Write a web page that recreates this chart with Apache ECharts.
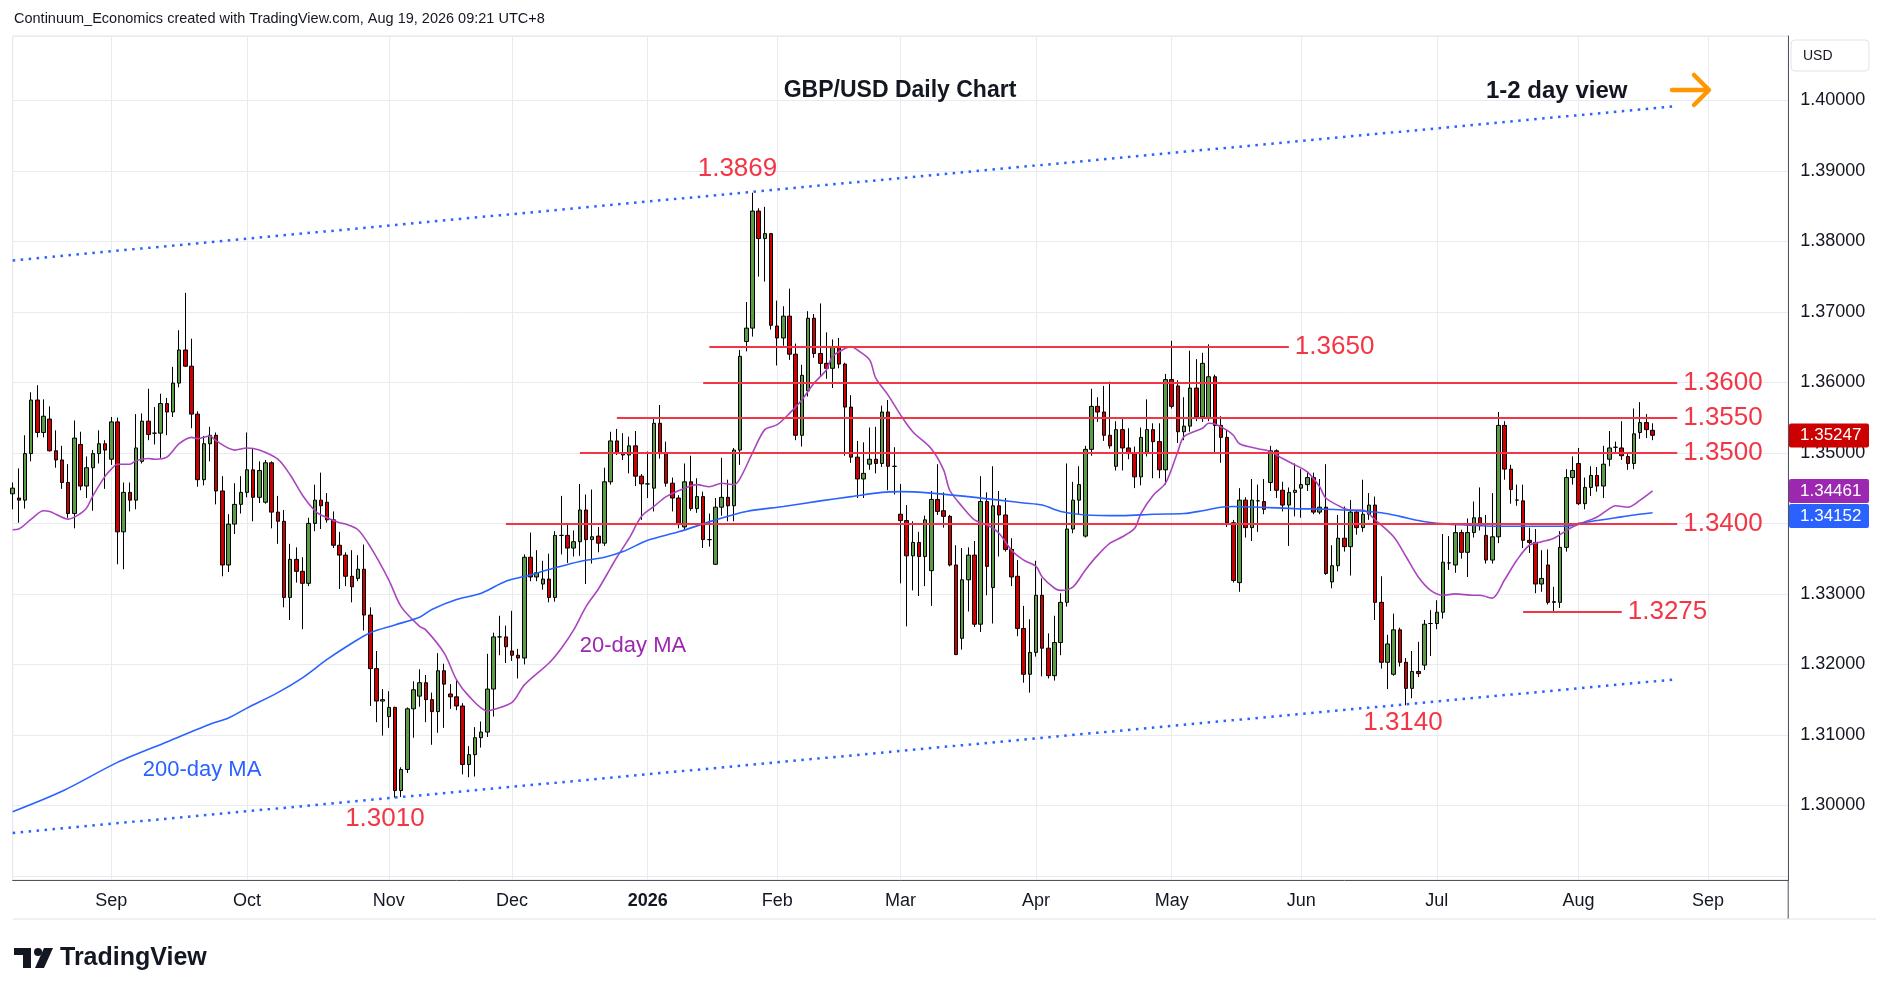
<!DOCTYPE html>
<html>
<head>
<meta charset="utf-8">
<title>GBP/USD Daily Chart</title>
<script src="https://cdn.jsdelivr.net/npm/echarts@6/dist/echarts.min.js"></script>
<style>
  html, body { margin: 0; padding: 0; background: #fff; }
  #chart { width: 1888px; height: 996px; }
</style>
</head>
<body>
<div id="chart"></div>
<script>
// daily candles: [date, open, high, low, close]
const aug25 = [
  ['2025-08-08', 1.3442, 1.3458, 1.3420, 1.3450],
  ['2025-08-11', 1.3436, 1.3478, 1.3401, 1.3433],
  ['2025-08-12', 1.3433, 1.3525, 1.3421, 1.3499],
  ['2025-08-13', 1.3499, 1.3586, 1.3488, 1.3575],
  ['2025-08-14', 1.3575, 1.3596, 1.3522, 1.3529],
  ['2025-08-15', 1.3529, 1.3576, 1.3522, 1.3552],
  ['2025-08-18', 1.3548, 1.3566, 1.3502, 1.3503],
  ['2025-08-19', 1.3503, 1.3532, 1.3479, 1.3490],
  ['2025-08-20', 1.3490, 1.3510, 1.3449, 1.3458],
  ['2025-08-21', 1.3458, 1.3484, 1.3408, 1.3414],
  ['2025-08-22', 1.3414, 1.3546, 1.3393, 1.3521],
  ['2025-08-25', 1.3512, 1.3530, 1.3447, 1.3453],
  ['2025-08-26', 1.3453, 1.3495, 1.3436, 1.3479],
  ['2025-08-27', 1.3479, 1.3504, 1.3418, 1.3499],
  ['2025-08-28', 1.3499, 1.3532, 1.3485, 1.3513],
  ['2025-08-29', 1.3513, 1.3518, 1.3449, 1.3504]
]
const sep25 = [
  ['2025-09-01', 1.3491, 1.3551, 1.3483, 1.3544],
  ['2025-09-02', 1.3544, 1.3550, 1.3342, 1.3388],
  ['2025-09-03', 1.3388, 1.3458, 1.3335, 1.3444],
  ['2025-09-04', 1.3444, 1.3458, 1.3417, 1.3433],
  ['2025-09-05', 1.3433, 1.3555, 1.3420, 1.3507],
  ['2025-09-08', 1.3488, 1.3556, 1.3485, 1.3545],
  ['2025-09-09', 1.3545, 1.3591, 1.3518, 1.3526],
  ['2025-09-10', 1.3528, 1.3565, 1.3512, 1.3528],
  ['2025-09-11', 1.3528, 1.3584, 1.3493, 1.3570],
  ['2025-09-12', 1.3570, 1.3578, 1.3525, 1.3558],
  ['2025-09-15', 1.3558, 1.3622, 1.3551, 1.3599],
  ['2025-09-16', 1.3599, 1.3674, 1.3593, 1.3646],
  ['2025-09-17', 1.3646, 1.3727, 1.3622, 1.3623],
  ['2025-09-18', 1.3623, 1.3662, 1.3535, 1.3555],
  ['2025-09-19', 1.3555, 1.3559, 1.3452, 1.3462],
  ['2025-09-22', 1.3462, 1.3524, 1.3454, 1.3513],
  ['2025-09-23', 1.3513, 1.3537, 1.3488, 1.3525],
  ['2025-09-24', 1.3525, 1.3529, 1.3427, 1.3446],
  ['2025-09-25', 1.3446, 1.3467, 1.3325, 1.3341],
  ['2025-09-26', 1.3341, 1.3413, 1.3331, 1.3399],
  ['2025-09-29', 1.3399, 1.3457, 1.3385, 1.3427],
  ['2025-09-30', 1.3427, 1.3467, 1.3414, 1.3444]
]
const oct25 = [
  ['2025-10-01', 1.3444, 1.3529, 1.3437, 1.3476],
  ['2025-10-02', 1.3476, 1.3507, 1.3403, 1.3437],
  ['2025-10-03', 1.3437, 1.3488, 1.3429, 1.3475],
  ['2025-10-06', 1.3430, 1.3490, 1.3428, 1.3486],
  ['2025-10-07', 1.3486, 1.3488, 1.3393, 1.3416],
  ['2025-10-08', 1.3416, 1.3439, 1.3371, 1.3403],
  ['2025-10-09', 1.3403, 1.3419, 1.3281, 1.3295],
  ['2025-10-10', 1.3295, 1.3371, 1.3263, 1.3349],
  ['2025-10-13', 1.3349, 1.3366, 1.3316, 1.3332],
  ['2025-10-14', 1.3332, 1.3352, 1.3250, 1.3315],
  ['2025-10-15', 1.3315, 1.3408, 1.3311, 1.3400],
  ['2025-10-16', 1.3400, 1.3455, 1.3389, 1.3433],
  ['2025-10-17', 1.3433, 1.3472, 1.3392, 1.3425],
  ['2025-10-20', 1.3430, 1.3443, 1.3401, 1.3405],
  ['2025-10-21', 1.3405, 1.3417, 1.3365, 1.3369],
  ['2025-10-22', 1.3369, 1.3388, 1.3307, 1.3355],
  ['2025-10-23', 1.3355, 1.3359, 1.3311, 1.3325],
  ['2025-10-24', 1.3325, 1.3362, 1.3288, 1.3310],
  ['2025-10-27', 1.3322, 1.3355, 1.3318, 1.3335],
  ['2025-10-28', 1.3335, 1.3370, 1.3248, 1.3270],
  ['2025-10-29', 1.3270, 1.3281, 1.3141, 1.3194],
  ['2025-10-30', 1.3194, 1.3219, 1.3118, 1.3148],
  ['2025-10-31', 1.3148, 1.3165, 1.3099, 1.3150]
]
const nov25 = [
  ['2025-11-03', 1.3126, 1.3162, 1.3110, 1.3139],
  ['2025-11-04', 1.3139, 1.3140, 1.3011, 1.3021],
  ['2025-11-05', 1.3021, 1.3054, 1.3012, 1.3051],
  ['2025-11-06', 1.3051, 1.3139, 1.3046, 1.3137],
  ['2025-11-07', 1.3137, 1.3176, 1.3096, 1.3164],
  ['2025-11-10', 1.3155, 1.3193, 1.3140, 1.3174],
  ['2025-11-11', 1.3174, 1.3185, 1.3118, 1.3150],
  ['2025-11-12', 1.3150, 1.3160, 1.3086, 1.3133],
  ['2025-11-13', 1.3133, 1.3216, 1.3103, 1.3191],
  ['2025-11-14', 1.3191, 1.3201, 1.3110, 1.3172],
  ['2025-11-17', 1.3158, 1.3172, 1.3137, 1.3154],
  ['2025-11-18', 1.3154, 1.3178, 1.3135, 1.3141],
  ['2025-11-19', 1.3141, 1.3145, 1.3044, 1.3058],
  ['2025-11-20', 1.3058, 1.3084, 1.3040, 1.3072],
  ['2025-11-21', 1.3072, 1.3111, 1.3041, 1.3096],
  ['2025-11-24', 1.3096, 1.3119, 1.3082, 1.3104],
  ['2025-11-25', 1.3104, 1.3215, 1.3097, 1.3165],
  ['2025-11-26', 1.3165, 1.3245, 1.3126, 1.3239],
  ['2025-11-27', 1.3239, 1.3269, 1.3213, 1.3239],
  ['2025-11-28', 1.3239, 1.3255, 1.3202, 1.3225]
]
const dec25 = [
  ['2025-12-01', 1.3219, 1.3276, 1.3205, 1.3213],
  ['2025-12-02', 1.3213, 1.3222, 1.3180, 1.3209],
  ['2025-12-03', 1.3209, 1.3356, 1.3200, 1.3352],
  ['2025-12-04', 1.3352, 1.3387, 1.3318, 1.3324],
  ['2025-12-05', 1.3324, 1.3362, 1.3318, 1.3330],
  ['2025-12-08', 1.3314, 1.3347, 1.3306, 1.3321],
  ['2025-12-09', 1.3321, 1.3357, 1.3288, 1.3295],
  ['2025-12-10', 1.3295, 1.3389, 1.3289, 1.3383],
  ['2025-12-11', 1.3383, 1.3439, 1.3356, 1.3383],
  ['2025-12-12', 1.3383, 1.3400, 1.3344, 1.3365],
  ['2025-12-15', 1.3365, 1.3390, 1.3353, 1.3374],
  ['2025-12-16', 1.3374, 1.3456, 1.3354, 1.3419],
  ['2025-12-17', 1.3419, 1.3441, 1.3314, 1.3377],
  ['2025-12-18', 1.3377, 1.3448, 1.3343, 1.3381],
  ['2025-12-19', 1.3382, 1.3395, 1.3359, 1.3372],
  ['2025-12-22', 1.3372, 1.3479, 1.3368, 1.3459],
  ['2025-12-23', 1.3459, 1.3530, 1.3455, 1.3517],
  ['2025-12-24', 1.3517, 1.3534, 1.3497, 1.3501],
  ['2025-12-26', 1.3500, 1.3528, 1.3490, 1.3497],
  ['2025-12-29', 1.3497, 1.3523, 1.3471, 1.3510],
  ['2025-12-30', 1.3510, 1.3531, 1.3453, 1.3467],
  ['2025-12-31', 1.3467, 1.3470, 1.3405, 1.3456]
]
const jan26 = [
  ['2026-01-02', 1.3456, 1.3502, 1.3436, 1.3456],
  ['2026-01-05', 1.3450, 1.3549, 1.3417, 1.3542],
  ['2026-01-06', 1.3542, 1.3568, 1.3492, 1.3499],
  ['2026-01-07', 1.3499, 1.3516, 1.3452, 1.3457],
  ['2026-01-08', 1.3457, 1.3465, 1.3417, 1.3436],
  ['2026-01-09', 1.3436, 1.3440, 1.3393, 1.3400],
  ['2026-01-12', 1.3395, 1.3485, 1.3391, 1.3459],
  ['2026-01-13', 1.3459, 1.3496, 1.3418, 1.3421],
  ['2026-01-14', 1.3421, 1.3464, 1.3415, 1.3438],
  ['2026-01-15', 1.3438, 1.3445, 1.3365, 1.3377],
  ['2026-01-16', 1.3377, 1.3414, 1.3367, 1.3377],
  ['2026-01-19', 1.3342, 1.3436, 1.3341, 1.3423],
  ['2026-01-20', 1.3423, 1.3493, 1.3411, 1.3437],
  ['2026-01-21', 1.3437, 1.3462, 1.3403, 1.3425],
  ['2026-01-22', 1.3425, 1.3507, 1.3403, 1.3504],
  ['2026-01-23', 1.3504, 1.3646, 1.3483, 1.3637],
  ['2026-01-26', 1.3658, 1.3714, 1.3644, 1.3677],
  ['2026-01-27', 1.3677, 1.3869, 1.3665, 1.3843],
  ['2026-01-28', 1.3843, 1.3847, 1.3750, 1.3804],
  ['2026-01-29', 1.3804, 1.3849, 1.3743, 1.3811],
  ['2026-01-30', 1.3811, 1.3812, 1.3675, 1.3681]
]
const feb26 = [
  ['2026-02-02', 1.3680, 1.3716, 1.3624, 1.3663],
  ['2026-02-03', 1.3663, 1.3708, 1.3652, 1.3694],
  ['2026-02-04', 1.3694, 1.3733, 1.3632, 1.3640],
  ['2026-02-05', 1.3640, 1.3655, 1.3518, 1.3525],
  ['2026-02-06', 1.3525, 1.3625, 1.3509, 1.3610],
  ['2026-02-09', 1.3588, 1.3701, 1.3580, 1.3691],
  ['2026-02-10', 1.3691, 1.3697, 1.3635, 1.3641],
  ['2026-02-11', 1.3641, 1.3712, 1.3609, 1.3627],
  ['2026-02-12', 1.3627, 1.3671, 1.3605, 1.3620],
  ['2026-02-13', 1.3620, 1.3661, 1.3592, 1.3651],
  ['2026-02-16', 1.3651, 1.3663, 1.3620, 1.3626],
  ['2026-02-17', 1.3626, 1.3628, 1.3496, 1.3565],
  ['2026-02-18', 1.3565, 1.3582, 1.3486, 1.3494],
  ['2026-02-19', 1.3494, 1.3517, 1.3436, 1.3463],
  ['2026-02-20', 1.3463, 1.3515, 1.3436, 1.3471],
  ['2026-02-23', 1.3484, 1.3536, 1.3476, 1.3491],
  ['2026-02-24', 1.3491, 1.3537, 1.3471, 1.3485],
  ['2026-02-25', 1.3485, 1.3567, 1.3480, 1.3558],
  ['2026-02-26', 1.3558, 1.3575, 1.3447, 1.3481],
  ['2026-02-27', 1.3481, 1.3508, 1.3441, 1.3481]
]
const mar26 = [
  ['2026-03-02', 1.3413, 1.3456, 1.3315, 1.3404],
  ['2026-03-03', 1.3404, 1.3426, 1.3254, 1.3354],
  ['2026-03-04', 1.3354, 1.3403, 1.3305, 1.3373],
  ['2026-03-05', 1.3373, 1.3388, 1.3297, 1.3353],
  ['2026-03-06', 1.3353, 1.3411, 1.3311, 1.3405],
  ['2026-03-09', 1.3333, 1.3446, 1.3283, 1.3434],
  ['2026-03-10', 1.3434, 1.3484, 1.3412, 1.3417],
  ['2026-03-11', 1.3418, 1.3444, 1.3394, 1.3410],
  ['2026-03-12', 1.3410, 1.3412, 1.3339, 1.3341],
  ['2026-03-13', 1.3341, 1.3369, 1.3213, 1.3214],
  ['2026-03-16', 1.3237, 1.3365, 1.3221, 1.3320],
  ['2026-03-17', 1.3320, 1.3366, 1.3275, 1.3355],
  ['2026-03-18', 1.3355, 1.3375, 1.3253, 1.3257],
  ['2026-03-19', 1.3257, 1.3467, 1.3246, 1.3431],
  ['2026-03-20', 1.3431, 1.3444, 1.3298, 1.3339],
  ['2026-03-23', 1.3309, 1.3481, 1.3258, 1.3425],
  ['2026-03-24', 1.3425, 1.3446, 1.3353, 1.3412],
  ['2026-03-25', 1.3412, 1.3436, 1.3360, 1.3363],
  ['2026-03-26', 1.3363, 1.3379, 1.3311, 1.3324],
  ['2026-03-27', 1.3325, 1.3348, 1.3240, 1.3251],
  ['2026-03-30', 1.3251, 1.3283, 1.3174, 1.3186],
  ['2026-03-31', 1.3186, 1.3264, 1.3160, 1.3217]
]
const apr26 = [
  ['2026-04-01', 1.3217, 1.3347, 1.3211, 1.3298],
  ['2026-04-02', 1.3298, 1.3322, 1.3183, 1.3223],
  ['2026-04-03', 1.3223, 1.3244, 1.3180, 1.3184],
  ['2026-04-06', 1.3184, 1.3269, 1.3177, 1.3231],
  ['2026-04-07', 1.3231, 1.3301, 1.3213, 1.3288],
  ['2026-04-08', 1.3288, 1.3485, 1.3282, 1.3392],
  ['2026-04-09', 1.3392, 1.3459, 1.3386, 1.3433],
  ['2026-04-10', 1.3433, 1.3481, 1.3412, 1.3455],
  ['2026-04-13', 1.3382, 1.3510, 1.3380, 1.3505],
  ['2026-04-14', 1.3505, 1.3591, 1.3496, 1.3566],
  ['2026-04-15', 1.3566, 1.3579, 1.3544, 1.3558],
  ['2026-04-16', 1.3558, 1.3595, 1.3517, 1.3525],
  ['2026-04-17', 1.3525, 1.3601, 1.3506, 1.3510],
  ['2026-04-20', 1.3481, 1.3545, 1.3475, 1.3533],
  ['2026-04-21', 1.3533, 1.3548, 1.3475, 1.3507],
  ['2026-04-22', 1.3507, 1.3535, 1.3491, 1.3499],
  ['2026-04-23', 1.3499, 1.3509, 1.3450, 1.3466],
  ['2026-04-24', 1.3466, 1.3536, 1.3454, 1.3522],
  ['2026-04-27', 1.3501, 1.3576, 1.3495, 1.3533],
  ['2026-04-28', 1.3533, 1.3542, 1.3464, 1.3516],
  ['2026-04-29', 1.3516, 1.3542, 1.3464, 1.3476],
  ['2026-04-30', 1.3476, 1.3612, 1.3455, 1.3604]
]
const may26 = [
  ['2026-05-01', 1.3604, 1.3659, 1.3563, 1.3566],
  ['2026-05-04', 1.3595, 1.3603, 1.3514, 1.3530],
  ['2026-05-05', 1.3530, 1.3579, 1.3518, 1.3538],
  ['2026-05-06', 1.3538, 1.3645, 1.3530, 1.3592],
  ['2026-05-07', 1.3592, 1.3633, 1.3545, 1.3551],
  ['2026-05-08', 1.3551, 1.3642, 1.3544, 1.3627],
  ['2026-05-11', 1.3550, 1.3654, 1.3545, 1.3608],
  ['2026-05-12', 1.3608, 1.3611, 1.3500, 1.3539],
  ['2026-05-13', 1.3539, 1.3552, 1.3486, 1.3522],
  ['2026-05-14', 1.3522, 1.3533, 1.3395, 1.3401],
  ['2026-05-15', 1.3401, 1.3405, 1.3316, 1.3319],
  ['2026-05-18', 1.3316, 1.3450, 1.3303, 1.3433],
  ['2026-05-19', 1.3433, 1.3437, 1.3380, 1.3394],
  ['2026-05-20', 1.3394, 1.3463, 1.3375, 1.3433],
  ['2026-05-21', 1.3432, 1.3455, 1.3388, 1.3432],
  ['2026-05-22', 1.3431, 1.3463, 1.3413, 1.3420],
  ['2026-05-25', 1.3458, 1.3510, 1.3446, 1.3503],
  ['2026-05-26', 1.3503, 1.3505, 1.3436, 1.3447],
  ['2026-05-27', 1.3447, 1.3459, 1.3417, 1.3426],
  ['2026-05-28', 1.3426, 1.3451, 1.3368, 1.3444],
  ['2026-05-29', 1.3444, 1.3485, 1.3410, 1.3447]
]
const jun26 = [
  ['2026-06-01', 1.3450, 1.3477, 1.3408, 1.3455],
  ['2026-06-02', 1.3455, 1.3474, 1.3446, 1.3465],
  ['2026-06-03', 1.3465, 1.3472, 1.3413, 1.3416],
  ['2026-06-04', 1.3416, 1.3463, 1.3413, 1.3423],
  ['2026-06-05', 1.3423, 1.3484, 1.3327, 1.3329],
  ['2026-06-08', 1.3317, 1.3369, 1.3308, 1.3340],
  ['2026-06-09', 1.3340, 1.3412, 1.3332, 1.3379],
  ['2026-06-10', 1.3379, 1.3424, 1.3360, 1.3367],
  ['2026-06-11', 1.3367, 1.3433, 1.3326, 1.3416],
  ['2026-06-12', 1.3416, 1.3419, 1.3384, 1.3394],
  ['2026-06-15', 1.3394, 1.3462, 1.3388, 1.3413],
  ['2026-06-16', 1.3413, 1.3443, 1.3405, 1.3426],
  ['2026-06-17', 1.3426, 1.3438, 1.3263, 1.3288],
  ['2026-06-18', 1.3288, 1.3325, 1.3194, 1.3203],
  ['2026-06-19', 1.3203, 1.3242, 1.3165, 1.3229],
  ['2026-06-22', 1.3186, 1.3272, 1.3184, 1.3249],
  ['2026-06-23', 1.3249, 1.3252, 1.3197, 1.3203],
  ['2026-06-24', 1.3203, 1.3209, 1.3142, 1.3166],
  ['2026-06-25', 1.3166, 1.3219, 1.3152, 1.3190],
  ['2026-06-26', 1.3190, 1.3232, 1.3182, 1.3187],
  ['2026-06-29', 1.3199, 1.3263, 1.3192, 1.3257],
  ['2026-06-30', 1.3258, 1.3277, 1.3212, 1.3258]
]
const jul26 = [
  ['2026-07-01', 1.3258, 1.3291, 1.3250, 1.3274],
  ['2026-07-02', 1.3274, 1.3385, 1.3265, 1.3345],
  ['2026-07-03', 1.3344, 1.3382, 1.3334, 1.3344],
  ['2026-07-06', 1.3341, 1.3398, 1.3330, 1.3387],
  ['2026-07-07', 1.3387, 1.3391, 1.3350, 1.3359],
  ['2026-07-08', 1.3359, 1.3407, 1.3324, 1.3387],
  ['2026-07-09', 1.3387, 1.3431, 1.3380, 1.3408],
  ['2026-07-10', 1.3408, 1.3451, 1.3390, 1.3397],
  ['2026-07-13', 1.3383, 1.3412, 1.3343, 1.3348],
  ['2026-07-14', 1.3348, 1.3443, 1.3343, 1.3381],
  ['2026-07-15', 1.3381, 1.3558, 1.3372, 1.3539],
  ['2026-07-16', 1.3539, 1.3545, 1.3462, 1.3477],
  ['2026-07-17', 1.3477, 1.3483, 1.3428, 1.3448],
  ['2026-07-20', 1.3433, 1.3455, 1.3425, 1.3433],
  ['2026-07-21', 1.3432, 1.3455, 1.3365, 1.3376],
  ['2026-07-22', 1.3376, 1.3394, 1.3358, 1.3373],
  ['2026-07-23', 1.3373, 1.3392, 1.3301, 1.3314],
  ['2026-07-24', 1.3314, 1.3362, 1.3303, 1.3322],
  ['2026-07-27', 1.3341, 1.3363, 1.3285, 1.3288],
  ['2026-07-28', 1.3288, 1.3310, 1.3275, 1.3289],
  ['2026-07-29', 1.3288, 1.3389, 1.3280, 1.3366],
  ['2026-07-30', 1.3366, 1.3477, 1.3360, 1.3465],
  ['2026-07-31', 1.3465, 1.3495, 1.3455, 1.3475]
]
const aug26 = [
  ['2026-08-03', 1.3485, 1.3507, 1.3426, 1.3428],
  ['2026-08-04', 1.3428, 1.3465, 1.3420, 1.3451],
  ['2026-08-05', 1.3451, 1.3481, 1.3439, 1.3468],
  ['2026-08-06', 1.3468, 1.3480, 1.3445, 1.3453],
  ['2026-08-07', 1.3453, 1.3510, 1.3436, 1.3484],
  ['2026-08-10', 1.3491, 1.3531, 1.3481, 1.3507],
  ['2026-08-11', 1.3508, 1.3516, 1.3500, 1.3508],
  ['2026-08-12', 1.3507, 1.3545, 1.3490, 1.3496],
  ['2026-08-13', 1.3495, 1.3500, 1.3476, 1.3485],
  ['2026-08-14', 1.3485, 1.3563, 1.3477, 1.3527],
  ['2026-08-17', 1.3529, 1.3572, 1.3520, 1.3543],
  ['2026-08-18', 1.3543, 1.3555, 1.3521, 1.3533],
  ['2026-08-19', 1.3532, 1.3542, 1.3518, 1.3525]
]
// empty days on the right of the last bar
const padDates = ['2026-08-20', '2026-08-21', '2026-08-24', '2026-08-25', '2026-08-26', '2026-08-27',
  '2026-08-28', '2026-08-31', '2026-09-01', '2026-09-02', '2026-09-03', '2026-09-04', '2026-09-07',
  '2026-09-08', '2026-09-09', '2026-09-10', '2026-09-11', '2026-09-14', '2026-09-15', '2026-09-16',
  '2026-09-17', '2026-09-18']

// moving averages: [bar index, value]
const ma20 = [
  [0, 1.3391], [1, 1.3392], [3, 1.3406], [5, 1.3418], [6, 1.3417], [7, 1.3413], [9, 1.3406], [11, 1.3414],
  [12, 1.3422], [13, 1.3439], [15, 1.3467], [16, 1.3477], [17, 1.3484], [19, 1.3484], [20, 1.3489], [22, 1.3492],
  [23, 1.3491], [25, 1.3494], [27, 1.3513], [29, 1.3522], [30, 1.3520], [32, 1.3524], [33, 1.3517], [36, 1.3504],
  [38, 1.3507], [40, 1.3504], [43, 1.3491], [45, 1.3469], [47, 1.3440], [49, 1.3418], [50, 1.3412], [53, 1.3401],
  [54, 1.3399], [56, 1.3391], [58, 1.3367], [61, 1.3320], [63, 1.3282], [66, 1.3254], [67, 1.3249], [70, 1.3216],
  [72, 1.3178], [74, 1.3155], [77, 1.3134], [78, 1.3136], [81, 1.3146], [83, 1.3171], [87, 1.3202], [89, 1.3223],
  [91, 1.3249], [93, 1.3282], [95, 1.3307], [97, 1.3337], [98, 1.3352], [100, 1.3379], [102, 1.3410], [104, 1.3424],
  [106, 1.3438], [109, 1.3450], [111, 1.3455], [113, 1.3452], [115, 1.3457], [117, 1.3455], [118, 1.3464],
  [120, 1.3500], [122, 1.3533], [124, 1.3540], [126, 1.3556], [128, 1.3575], [130, 1.3599], [132, 1.3618],
  [133, 1.3637], [135, 1.3648], [136, 1.3651], [137, 1.3646], [139, 1.3632], [140, 1.3606], [142, 1.3582],
  [144, 1.3554], [146, 1.3530], [149, 1.3506], [151, 1.3476], [152, 1.3447], [154, 1.3424], [156, 1.3405],
  [158, 1.3398], [160, 1.3386], [162, 1.3362], [164, 1.3348], [166, 1.3339], [167, 1.3324], [169, 1.3308],
  [170, 1.3305], [172, 1.3310], [174, 1.3334], [176, 1.3355], [178, 1.3372], [180, 1.3381], [182, 1.3393],
  [183, 1.3414], [185, 1.3440], [187, 1.3457], [189, 1.3502], [190, 1.3523], [193, 1.3535], [194, 1.3542],
  [195, 1.3541], [197, 1.3532], [198, 1.3525], [199, 1.3513], [202, 1.3506], [204, 1.3502], [206, 1.3492],
  [208, 1.3483], [210, 1.3473], [212, 1.3452], [213, 1.3436], [216, 1.3421], [217, 1.3419], [219, 1.3419],
  [221, 1.3405], [224, 1.3381], [226, 1.3353], [228, 1.3324], [230, 1.3305], [232, 1.3298], [234, 1.3300],
  [237, 1.3298], [238, 1.3298], [240, 1.3294], [242, 1.3320], [244, 1.3348], [246, 1.3369], [248, 1.3374],
  [250, 1.3379], [253, 1.3395], [255, 1.3402], [257, 1.3409], [259, 1.3421], [260, 1.3425], [262, 1.3423],
  [264, 1.3433], [266, 1.3446]
]
const ma200 = [
  [0, 1.2991], [8, 1.3020], [17, 1.3061], [25, 1.3090], [32, 1.3115], [35, 1.3124], [38, 1.3138], [43, 1.3160],
  [47, 1.3181], [51, 1.3207], [55, 1.3230], [58, 1.3245], [62, 1.3256], [66, 1.3267], [68, 1.3278], [72, 1.3292],
  [76, 1.3301], [80, 1.3318], [84, 1.3327], [88, 1.3337], [92, 1.3346], [96, 1.3352], [99, 1.3360], [103, 1.3376],
  [108, 1.3388], [114, 1.3405], [119, 1.3417], [125, 1.3424], [131, 1.3432], [136, 1.3438], [141, 1.3444],
  [144, 1.3445], [149, 1.3443], [155, 1.3438], [160, 1.3433], [164, 1.3429], [167, 1.3426], [170, 1.3417],
  [174, 1.3412], [180, 1.3411], [185, 1.3413], [190, 1.3414], [193, 1.3418], [196, 1.3423], [198, 1.3424],
  [202, 1.3423], [208, 1.3421], [213, 1.3420], [218, 1.3418], [222, 1.3415], [225, 1.3410], [228, 1.3404],
  [231, 1.3400], [235, 1.3398], [241, 1.3396], [246, 1.3396], [252, 1.3396], [254, 1.3400], [257, 1.3404],
  [260, 1.3408], [263, 1.3412], [266, 1.3415]
]

// drawn levels
const levelPrices = [1.3650, 1.3600, 1.3550, 1.3500, 1.3400, 1.3275]
const levelFrom = ['2026-01-16', '2026-01-15', '2025-12-24', '2025-12-16', '2025-11-28', '2026-07-21']
const levelTo = ['2026-05-28', '2026-08-25', '2026-08-25', '2026-08-25', '2026-08-25', '2026-08-12']
// channel lines: [date, price] at both ends
const channelUpper = [['2025-08-08', 1.3773], ['2026-08-25', 1.3992]]
const channelLower = [['2025-08-08', 1.2961], ['2026-08-25', 1.3179]]
// swing highs / lows that carry a label
const swingDates = ['2026-01-27', '2025-11-04', '2026-06-24']
const swingPrices = [1.3869, 1.3010, 1.3140]
// last values on the price scale: close, 20-day MA, 200-day MA
const tagValues = [1.35247, 1.34461, 1.34152]

const FONT = '"Liberation Sans", Arial, sans-serif'
const RED = '#f23645'
const monthNames = ['Jan', 'Feb', 'Mar', 'Apr', 'May', 'Jun', 'Jul', 'Aug', 'Sep', 'Oct', 'Nov', 'Dec']

const rows = [aug25, sep25, oct25, nov25, dec25, jan26, feb26, mar26, apr26, may26, jun26, jul26, aug26].flat()
const dates = rows.map(r => r[0]).concat(padDates)
const candles = rows.map(r => [r[1], r[4], r[3], r[2]])
const monthStart = dates.map((d, i) => i > 0 && d.slice(5, 7) !== dates[i - 1].slice(5, 7))

const levelLines = levelPrices.map((p, i) => [
  { name: p.toFixed(4), coord: [levelFrom[i], p] },
  { coord: [levelTo[i], p] }
])
const channelStyle = { color: '#2962ff', width: 2.5, type: [2.5, 5.5] }
const channelLines = [channelUpper, channelLower].map(c => [
  { coord: c[0], lineStyle: channelStyle, label: { show: false } },
  { coord: c[1] }
])

const chart = echarts.init(document.getElementById('chart'))

chart.setOption({
  animation: false,
  backgroundColor: '#ffffff',
  textStyle: { fontFamily: FONT },
  grid: {
    left: 12.7, top: 36, width: 1775.5, height: 844,
    show: true, borderColor: '#e0e3eb', borderWidth: 1,
    outerBoundsMode: 'none'
  },
  xAxis: {
    type: 'category',
    data: dates,
    boundaryGap: false,
    axisLine: { lineStyle: { color: '#50535e' } },
    axisTick: { show: false },
    axisLabel: {
      interval: (i) => monthStart[i],
      color: '#131722',
      fontSize: 18,
      margin: 12,
      formatter: (v) => {
        const m = +v.slice(5, 7)
        return m === 1 ? '{y|' + v.slice(0, 4) + '}' : monthNames[m - 1]
      },
      rich: { y: { fontWeight: 'bold', fontSize: 18, color: '#131722' } }
    },
    splitLine: { show: true, interval: (i) => monthStart[i], lineStyle: { color: '#e8ecf2' } }
  },
  yAxis: {
    type: 'value',
    position: 'right',
    min: 1.289418,
    max: 1.409135,
    splitNumber: 12,
    minInterval: 0.01,
    maxInterval: 0.01,
    axisLine: { show: true, lineStyle: { color: '#50535e' } },
    axisTick: { show: false },
    axisLabel: {
      color: '#131722',
      fontSize: 18,
      margin: 12,
      showMinLabel: false,
      showMaxLabel: false,
      formatter: (v) => {
        const onGrid = Math.abs(v * 100 - Math.round(v * 100)) < 1e-6
        return onGrid && v > 1.295 && v < 1.405 ? v.toFixed(5) : ''
      }
    },
    splitLine: { show: true, lineStyle: { color: '#e8ecf2' } }
  },
  series: [
    {
      name: 'levels',
      type: 'line',
      data: [],
      z: 1,
      clip: false,
      markLine: {
        silent: true,
        symbol: ['none', 'none'],
        lineStyle: { color: RED, width: 2, type: 'solid' },
        label: {
          show: true,
          position: 'end',
          distance: 6,
          formatter: '{b}',
          color: RED,
          fontSize: 26,
          fontFamily: FONT
        },
        data: levelLines.concat(channelLines)
      }
    },
    {
      name: 'GBP/USD',
      type: 'candlestick',
      data: candles,
      z: 2,
      barWidth: 4,
      itemStyle: {
        color: '#5b9b45',
        color0: '#cc0000',
        borderColor: '#000000',
        borderColor0: '#000000',
        borderWidth: 1
      }
    },
    {
      name: '20-day MA',
      type: 'line',
      data: ma20,
      z: 3,
      smooth: 0.3,
      showSymbol: false,
      lineStyle: { color: '#aa46bd', width: 1.6 }
    },
    {
      name: '200-day MA',
      type: 'line',
      data: ma200,
      z: 3,
      smooth: 0.3,
      showSymbol: false,
      lineStyle: { color: '#2962ff', width: 1.6 }
    }
  ]
})

// text and tags placed from data via the chart's own scales
const toPx = (date, price) => chart.convertToPixel({ gridIndex: 0 }, [dates.indexOf(date), price])
const priceY = (price) => chart.convertToPixel({ yAxisIndex: 0 }, price)

const swingOffsets = [[-15, -24], [-10, 20], [-3, 16]]
const swingText = swingDates.map((d, i) => {
  const p = toPx(d, swingPrices[i])
  return {
    type: 'text',
    x: p[0] + swingOffsets[i][0],
    y: p[1] + swingOffsets[i][1],
    style: {
      text: swingPrices[i].toFixed(4), fill: RED, font: '26px ' + FONT,
      textAlign: 'center', textVerticalAlign: 'middle'
    }
  }
})

const tagColors = ['#cc0000', '#9c27b0', '#2962ff']
let tagY = tagValues.map(v => priceY(v))
for (let i = 1; i < tagY.length; i++) {
  if (tagY[i] - tagY[i - 1] < 25) tagY[i] = tagY[i - 1] + 25
}
const tags = []
tagValues.forEach((v, i) => {
  tags.push({
    type: 'rect', z: 100, zlevel: 1,
    shape: { x: 1789, y: tagY[i] - 12, width: 80, height: 24, r: 2 },
    style: { fill: tagColors[i] }
  })
  tags.push({
    type: 'text', z: 101, zlevel: 1, x: 1800, y: tagY[i],
    style: { text: v.toFixed(5), fill: '#ffffff', font: '17px ' + FONT, textVerticalAlign: 'middle' }
  })
})

const decor = [
  {
    type: 'text', x: 14, y: 19,
    style: {
      text: 'Continuum_Economics created with TradingView.com, Aug 19, 2026 09:21 UTC+8',
      fill: '#131722', font: '14.5px ' + FONT, textVerticalAlign: 'middle'
    }
  },
  {
    type: 'text', x: 900, y: 91,
    style: { text: 'GBP/USD Daily Chart', fill: '#131722', font: 'bold 23px ' + FONT, textAlign: 'center', textVerticalAlign: 'middle' }
  },
  {
    type: 'text', x: 1486, y: 91,
    style: { text: '1-2 day view', fill: '#131722', font: 'bold 24px ' + FONT, textVerticalAlign: 'middle' }
  },
  {
    type: 'polyline', shape: { points: [[1672, 90], [1708, 90]] },
    style: { stroke: '#ff9800', lineWidth: 4.5, lineCap: 'round' }
  },
  {
    type: 'polyline', shape: { points: [[1694, 75], [1709, 90], [1694, 105]] },
    style: { stroke: '#ff9800', lineWidth: 4.5, lineCap: 'round', lineJoin: 'round', fill: 'none' }
  },
  {
    type: 'text', x: 633, y: 646,
    style: { text: '20-day MA', fill: '#9c27b0', font: '22px ' + FONT, textAlign: 'center', textVerticalAlign: 'middle' }
  },
  {
    type: 'text', x: 202, y: 770,
    style: { text: '200-day MA', fill: '#2962ff', font: '22px ' + FONT, textAlign: 'center', textVerticalAlign: 'middle' }
  },
  {
    type: 'rect', shape: { x: 1791, y: 40, width: 78, height: 31, r: 4 },
    style: { fill: '#ffffff', stroke: '#e0e3eb', lineWidth: 1 }
  },
  {
    type: 'text', x: 1803, y: 56,
    style: { text: 'USD', fill: '#131722', font: '14px ' + FONT, textVerticalAlign: 'middle' }
  },
  { type: 'line', shape: { x1: 1788.2, y1: 880, x2: 1788.2, y2: 919 }, style: { stroke: '#50535e', lineWidth: 1 } },
  { type: 'line', shape: { x1: 12.7, y1: 919, x2: 1876, y2: 919 }, style: { stroke: '#e0e3eb', lineWidth: 1 } },
  // TradingView mark
  { type: 'rect', shape: { x: 14, y: 948, width: 17, height: 7 }, style: { fill: '#131722' } },
  { type: 'rect', shape: { x: 23, y: 948, width: 8, height: 20 }, style: { fill: '#131722' } },
  { type: 'circle', shape: { cx: 38, cy: 952, r: 4 }, style: { fill: '#131722' } },
  { type: 'polygon', shape: { points: [[44, 948], [53, 948], [44, 968], [35, 968]] }, style: { fill: '#131722' } },
  {
    type: 'text', x: 60, y: 958,
    style: { text: 'TradingView', fill: '#131722', font: 'bold 25px ' + FONT, textVerticalAlign: 'middle' }
  }
]

chart.setOption({ graphic: decor.concat(swingText, tags) })
</script>
</body>
</html>
